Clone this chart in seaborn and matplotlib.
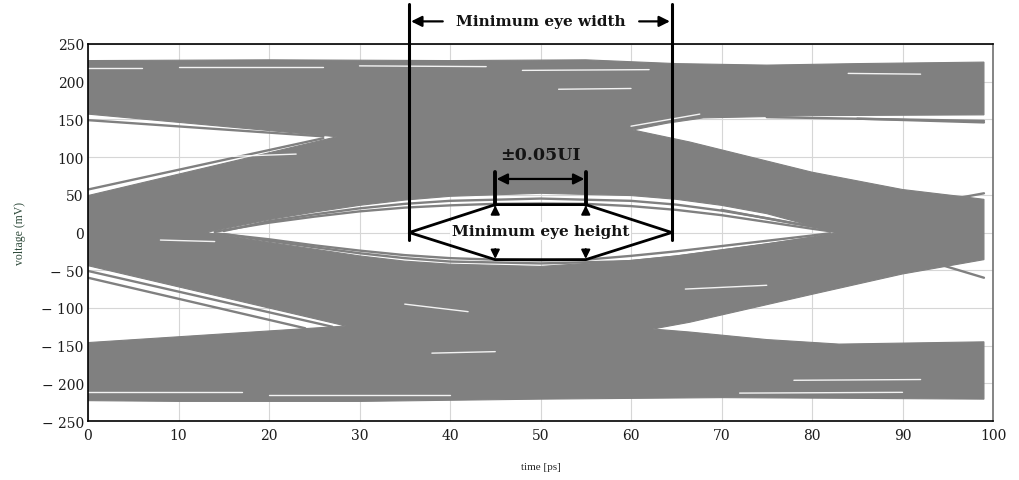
import matplotlib
matplotlib.use("Agg")
import matplotlib.pyplot as plt
from matplotlib.path import Path
from matplotlib.patches import PathPatch
import seaborn as sns
import pandas as pd

# ---- data (t in ps, v in mV) ----
# outer envelope of all traces
top_t = [0, 20, 40, 55, 65, 75, 85, 99]
top_v = [228, 229, 228, 229, 224, 222, 224, 226]
bot_t = [99, 85, 70, 50, 30, 10, 0]
bot_v = [-221, -220, -219, -221, -224, -224, -223]

# open (white) areas that reach the right edge
ur_t = [99, 80, 68, 64, 60.2, 66.5, 80, 90, 97, 99]
ur_v = [156, 155, 152, 145, 136, 120, 80, 57, 47, 44]
lr_t = [99, 90, 80, 66.5, 62.4, 66.5, 75, 83, 99]
lr_v = [-36, -55, -82, -119, -128, -132, -142, -148, -145]
# open areas that reach the left edge
ll_t = [0, 28.5, 0]
ll_v = [-146, -124, -44]
ul_t = [0, 27.5, 0]
ul_v = [49, 127, 157]

# central eye opening (outer edge of the trace band)
eye_top_t = [13, 20, 25, 30, 35, 40, 50, 60, 65, 70, 75, 79, 83]
eye_top_v = [0, 17, 27, 36, 43, 48, 52, 49, 44, 36, 25, 12, 0]
eye_bot_t = [13, 20, 25, 30, 35, 40, 50, 60, 65, 70, 75, 79, 83]
eye_bot_v = [0, -13, -22, -31, -38, -42, -45, -37, -31, -23, -15, -8, 0]

# single traces standing apart from the bands
traces = {
    "a": ([14, 20, 25, 30, 35, 40, 45, 50, 55, 60, 65, 70, 75, 80, 83],
          [1, 13, 21, 28, 33, 36, 38, 38.5, 38, 35, 30, 23, 14, 5, 0]),
    "b": ([15, 20, 25, 30, 35, 40, 50, 60, 65, 70, 75, 80, 83],
          [2, 15, 24, 32, 38, 42, 45, 42, 37, 29, 19, 8, 1]),
    "c": ([14, 20, 25, 30, 35, 40, 45, 50, 55, 60, 65, 70, 75, 80, 82],
          [-1, -9, -17, -24, -30, -34, -36, -37, -36, -31, -25, -18, -11, -4, -1]),
    "d": ([15, 20, 25, 30, 35, 40, 50, 60, 65, 70, 75, 80],
          [-2, -11, -19.5, -27.5, -34, -38.5, -41, -38, -32, -24, -16, -7]),
    "e": ([0, 26], [149, 127.5]),
    "f": ([0, 26], [57, 125]),
    "g": ([0, 27], [-51, -125]),
    "h": ([0, 24], [-60, -127]),
    "i": ([75, 99], [153, 148]),
    "j": ([85, 99], [151, 146]),
    "k": ([86, 94, 99], [33, 41, 52]),
    "l": ([86, 94, 99], [-30, -42, -60]),
    "m": ([70, 78, 84], [30, 12, 1]),
}

# thin light gaps between traces inside the bands
streaks = {
    "s1": ([0, 6], [218, 218]),
    "s2": ([10, 26], [219, 219]),
    "s3": ([30, 44], [221, 220]),
    "s4": ([48, 62], [215, 216]),
    "s5": ([84, 92], [211, 210]),
    "s6": ([60, 67.6], [141, 157]),
    "s7": ([35, 42], [-95, -105]),
    "s8": ([0, 17], [-212, -212]),
    "s9": ([20, 40], [-216, -216]),
    "s10": ([72, 90], [-213, -212]),
    "s11": ([78, 92], [-196, -195]),
    "s12": ([16, 23], [101, 104]),
    "s13": ([38, 45], [-160, -158]),
    "s14": ([8, 14], [-10, -12]),
    "s15": ([66, 75], [-75, -70]),
    "s16": ([52, 60], [190, 191]),
}

yticks = [250, 200, 150, 100, 50, 0, -50, -100, -150, -200, -250]
ytick_labels = ["250", "200", "150", "100", "50", "0", "\u2212 50", "\u2212 100",
                "\u2212 150", "\u2212 200", "\u2212 250"]
xticks = [0, 10, 20, 30, 40, 50, 60, 70, 80, 90, 100]

# annotation geometry
w_left, w_right = 35.5, 64.5
ui_left, ui_right = 45, 55
hex_t = [35.5, 45, 55, 64.5, 55, 45, 35.5]
hex_v = [0, 37, 37, 0, -36, -36, 0]

GRAY = "#808080"

sns.set_style("whitegrid", {"grid.color": "#d6d6d6", "axes.edgecolor": "black"})
plt.rcParams["font.family"] = ["DejaVu Serif"]

fig = plt.figure(figsize=(10.19, 4.81), dpi=100)
ax = fig.add_axes([88 / 1019, 1 - 422 / 481, 905 / 1019, 377 / 481])

# outline of the trace cloud (clockwise), with notches for the side openings
outline = list(zip(top_t, top_v)) + list(zip(ur_t, ur_v)) + list(zip(lr_t, lr_v)) \
    + list(zip(bot_t, bot_v)) + list(zip(ll_t, ll_v)) + list(zip(ul_t, ul_v))
# eye opening as a hole (counter-clockwise)
hole = list(zip(eye_bot_t, eye_bot_v)) + list(zip(eye_top_t[::-1], eye_top_v[::-1]))[1:]
verts = outline + [outline[0]] + hole + [hole[0]]
codes = ([Path.MOVETO] + [Path.LINETO] * (len(outline) - 1) + [Path.CLOSEPOLY]
         + [Path.MOVETO] + [Path.LINETO] * (len(hole) - 1) + [Path.CLOSEPOLY])
ax.add_patch(PathPatch(Path(verts, codes), facecolor=GRAY, edgecolor=GRAY, lw=0.8, zorder=1))

rows = [(k, t, v) for k, (ts, vs) in traces.items() for t, v in zip(ts, vs)]
df_tr = pd.DataFrame(rows, columns=["trace", "t", "v"])
sns.lineplot(data=df_tr, x="t", y="v", units="trace", estimator=None, sort=False,
             color=GRAY, linewidth=1.7, legend=False, ax=ax, zorder=2)

rows = [(k, t, v) for k, (ts, vs) in streaks.items() for t, v in zip(ts, vs)]
df_st = pd.DataFrame(rows, columns=["streak", "t", "v"])
sns.lineplot(data=df_st, x="t", y="v", units="streak", estimator=None, sort=False,
             color="white", linewidth=1.0, alpha=0.9, legend=False, ax=ax, zorder=2)

ax.set_xlim(0, 100)
ax.set_ylim(-250, 250)
ax.set_xticks(xticks)
ax.set_yticks(yticks)
ax.set_yticklabels(ytick_labels)
ax.tick_params(axis="both", length=0, labelsize=10, colors="#1c1c1c")
ax.tick_params(axis="y", pad=3)
ax.tick_params(axis="x", pad=5)
for s in ["left", "bottom", "top"]:
    ax.spines[s].set_color("black")
    ax.spines[s].set_linewidth(1.2)
ax.spines["right"].set_color("#707070")
ax.spines["right"].set_linewidth(1.2)

ax.set_xlabel("time [ps]", fontsize=8, family=["Liberation Serif"])
ax.set_ylabel("voltage (mV)", fontsize=8.5, family=["Liberation Serif"], color="#2e4a3a")
ax.xaxis.set_label_coords(0.5, -0.11)
ax.yaxis.set_label_coords(-0.068, 0.5)

# ---- annotations ----
k = "black"
for x in (w_left, w_right):
    ax.plot([x, x], [-10, 303], color=k, lw=2.2, clip_on=False, zorder=5)
arr = dict(arrowstyle="-|>", color=k, lw=1.6, mutation_scale=16, shrinkA=0, shrinkB=0)
ax.annotate("", xy=(w_left + 0.2, 280), xytext=(39.2, 280), arrowprops=arr,
            annotation_clip=False, zorder=5)
ax.annotate("", xy=(w_right - 0.2, 280), xytext=(60.9, 280), arrowprops=arr,
            annotation_clip=False, zorder=5)
ax.text(50, 280, "Minimum eye width", ha="center", va="center", fontsize=11,
        fontweight="bold", color="#141414", clip_on=False, zorder=6)

ax.plot(hex_t, hex_v, color=k, lw=2, zorder=5)
for x in (ui_left, ui_right):
    ax.plot([x, x], [37, 80], color=k, lw=2.8, zorder=5)
ax.annotate("", xy=(ui_left + 0.15, 71), xytext=(ui_right - 0.15, 71),
            arrowprops=dict(arrowstyle="<|-|>", color=k, lw=1.6, mutation_scale=16,
                            shrinkA=0, shrinkB=0), zorder=5)
ax.text(50, 104, "\u00b10.05UI", ha="center", va="center", fontsize=12.5,
        fontweight="bold", color="#141414", zorder=6)

small = dict(arrowstyle="-|>", color=k, lw=1.4, mutation_scale=13, shrinkA=0, shrinkB=0)
for x in (ui_left, ui_right):
    ax.annotate("", xy=(x, 36), xytext=(x, 24), arrowprops=small, zorder=5)
    ax.annotate("", xy=(x, -35), xytext=(x, -22), arrowprops=small, zorder=5)
ax.text(50, 2, "Minimum eye height", ha="center", va="center", fontsize=11,
        fontweight="bold", color="#141414", zorder=6,
        bbox=dict(facecolor="white", edgecolor="none", pad=1.5))

fig.savefig("out.png", dpi=100)
